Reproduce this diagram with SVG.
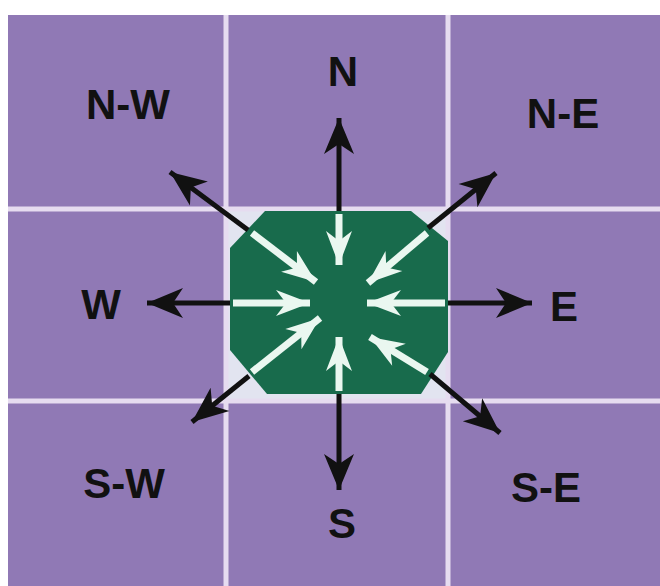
<svg xmlns="http://www.w3.org/2000/svg" width="660" height="586" viewBox="0 0 660 586">
<defs>
<style>
.lbl{font-family:"Liberation Sans",Arial,sans-serif;font-weight:bold;font-size:42px;fill:#111;text-anchor:middle}
.grid{stroke:#e6dcf0;stroke-width:5}
.blk{stroke:#111;stroke-width:5;fill:none;marker-end:url(#bh)}
.wht{stroke:#eaf7f0;stroke-width:7;fill:none;marker-end:url(#wh)}
</style>
<marker id="bh" markerUnits="userSpaceOnUse" markerWidth="40" markerHeight="36" refX="0" refY="0" viewBox="-38 -18 40 36" orient="auto">
<path d="M0,0 L-36,-15 L-26,0 L-36,15 Z" fill="#111"/>
</marker>
<marker id="wh" markerUnits="userSpaceOnUse" markerWidth="40" markerHeight="36" refX="0" refY="0" viewBox="-38 -18 40 36" orient="auto">
<path d="M0,0 L-34,-13 L-24,0 L-34,13 Z" fill="#eaf7f0"/>
</marker>
</defs>
<rect width="660" height="586" fill="#ffffff"/>
<g id="background">
<rect x="8" y="15" width="652" height="571" fill="#9079b5"/>
<rect x="226" y="209" width="222" height="192" fill="#e2e4f0"/>
</g>
<g id="grid">
<line class="grid" x1="226" y1="15" x2="226" y2="586"/>
<line class="grid" x1="448" y1="15" x2="448" y2="586"/>
<line class="grid" x1="8" y1="209" x2="660" y2="209"/>
<line class="grid" x1="8" y1="401" x2="660" y2="401"/>
</g>
<g id="center">
<polygon points="265,211 411,211 448,241 448,352 421,394 267,394 230,350 230,248" fill="#186b4c"/>
</g>
<g id="connectors">
<line class="blk" x1="339" y1="211" x2="339" y2="118"/>
<line class="blk" x1="339" y1="394" x2="339" y2="490"/>
<line class="blk" x1="230" y1="303" x2="147" y2="303"/>
<line class="blk" x1="448" y1="303" x2="532" y2="303"/>
<line class="blk" x1="248" y1="230" x2="170" y2="172"/>
<line class="blk" x1="428" y1="228" x2="496" y2="173"/>
<line class="blk" x1="249" y1="376" x2="192" y2="422"/>
<line class="blk" x1="430" y1="374" x2="500" y2="433"/>
<line class="wht" x1="339" y1="214" x2="339" y2="265"/>
<line class="wht" x1="339" y1="391" x2="339" y2="337"/>
<line class="wht" x1="233" y1="303" x2="310" y2="303"/>
<line class="wht" x1="445" y1="303" x2="367" y2="303"/>
<line class="wht" x1="252" y1="233" x2="316" y2="282"/>
<line class="wht" x1="427" y1="233" x2="368" y2="283"/>
<line class="wht" x1="252" y1="372" x2="320" y2="318"/>
<line class="wht" x1="427" y1="372" x2="370" y2="337"/>
</g>
<g id="label-N"><text class="lbl" x="343" y="86">N</text></g>
<g id="label-NW"><text class="lbl" x="128" y="119">N-W</text></g>
<g id="label-NE"><text class="lbl" x="563" y="128">N-E</text></g>
<g id="label-W"><text class="lbl" x="101" y="319">W</text></g>
<g id="label-E"><text class="lbl" x="564" y="321">E</text></g>
<g id="label-SW"><text class="lbl" x="124" y="498">S-W</text></g>
<g id="label-S"><text class="lbl" x="342" y="538">S</text></g>
<g id="label-SE"><text class="lbl" x="546" y="502">S-E</text></g>
</svg>
